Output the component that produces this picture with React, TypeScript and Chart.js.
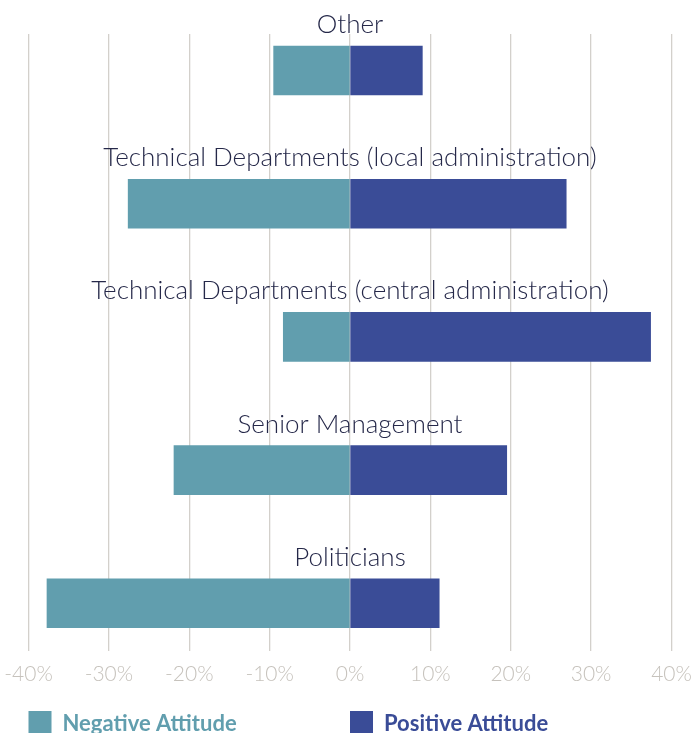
import React, { useEffect, useRef } from "react";
import { Chart, registerables } from "chart.js";

Chart.register(...registerables);

const categories = [
  "Other",
  "Technical Departments (local administration)",
  "Technical Departments (central administration)",
  "Senior Management",
  "Politicians",
];
const negativeValues = [-9.5, -27.6, -8.3, -21.9, -37.7];
const positiveValues = [9.0, 26.9, 37.4, 19.5, 11.1];
const seriesNames = ["Negative Attitude", "Positive Attitude"];
const seriesColors = ["#619eae", "#3a4c97"];
const xTicks = [-40, -30, -20, -10, 0, 10, 20, 30, 40];

const labelPlugin = {
  id: "catLabels",
  afterDatasetsDraw(chart: any) {
    const ctx = chart.ctx;
    const meta = chart.getDatasetMeta(0);
    const x0 = chart.scales.x.getPixelForValue(0);
    ctx.save();
    ctx.font = "300 26px Lato";
    ctx.fillStyle = "#252849";
    ctx.textAlign = "center";
    ctx.textBaseline = "alphabetic";
    meta.data.forEach((bar: any, i: number) => {
      const top = bar.y - bar.height / 2;
      ctx.fillText(categories[i], x0, top - 13);
    });
    ctx.restore();
  },
  afterDraw(chart: any) {
    const ctx = chart.ctx;
    const area = chart.chartArea;
    const y = chart.height - 22;
    ctx.save();
    ctx.font = "700 22px Lato";
    ctx.textBaseline = "alphabetic";
    ctx.textAlign = "left";
    seriesNames.forEach((name, i) => {
      const x = area.left + (i * (area.right - area.left)) / 2;
      ctx.fillStyle = seriesColors[i];
      ctx.fillRect(x, y, 23, 24);
      ctx.fillText(name, x + 34, y + 20);
    });
    ctx.restore();
  },
};

export default function App() {
  const ref = useRef<HTMLCanvasElement>(null);
  useEffect(() => {
    if (!ref.current) return;
    const chart = new Chart(ref.current, {
      type: "bar",
      data: {
        datasets: [
          {
            label: seriesNames[0],
            data: negativeValues.map((v, i) => ({ x: v, y: i })),
            backgroundColor: seriesColors[0],
            barThickness: 49,
          },
          {
            label: seriesNames[1],
            data: positiveValues.map((v, i) => ({ x: v, y: i })),
            backgroundColor: seriesColors[1],
            barThickness: 49,
          },
        ],
      },
      options: {
        indexAxis: "y",
        animation: false,
        responsive: false,
        maintainAspectRatio: false,
        layout: { padding: { left: 28.5, right: 21.5, top: 34, bottom: 35 } },
        plugins: { legend: { display: false }, tooltip: { enabled: false } },
        scales: {
          x: {
            type: "linear",
            stacked: true,
            min: -40,
            max: 40,
            afterBuildTicks: (axis: any) => {
              axis.ticks = xTicks.map((v) => ({ value: v }));
            },
            afterFit: (axis: any) => {
              axis.paddingLeft = 0;
              axis.paddingRight = 0;
            },
            border: { display: false },
            grid: { color: "#d3d0cb", lineWidth: 1.3, drawTicks: false },
            ticks: {
              padding: 11,
              color: "#c6c2bc",
              font: { family: "Lato", size: 21, weight: "300" },
              callback: (v: any) => `${v}%`,
            },
          },
          y: {
            type: "linear",
            stacked: true,
            reverse: true,
            offset: false,
            min: -0.2744,
            max: 4.357,
            display: false,
          },
        },
      },
      plugins: [labelPlugin],
    } as any);
    return () => chart.destroy();
  }, []);
  return (
    <div style={{ position: "fixed", left: 0, top: 0, width: 693, height: 733, background: "#fff" }}>
      <canvas ref={ref} width={693} height={733} style={{ display: "block" }} />
    </div>
  );
}
